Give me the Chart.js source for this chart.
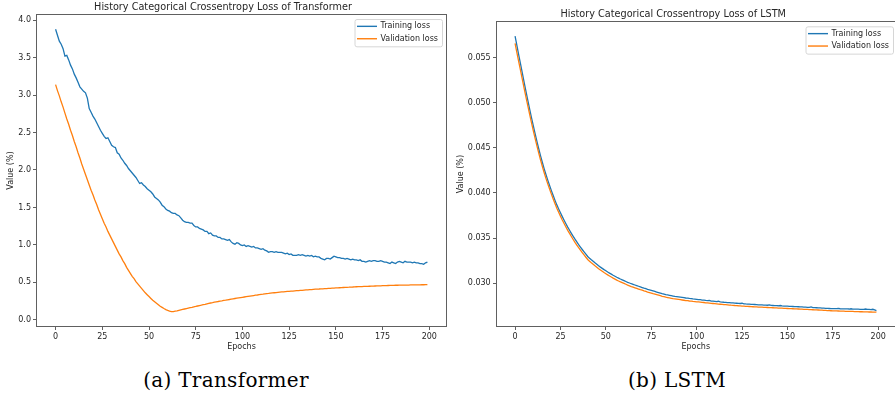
<!DOCTYPE html>
<html>
<head>
<meta charset="utf-8">
<script src="https://cdn.jsdelivr.net/npm/chart.js@4.4.1/dist/chart.umd.min.js"></script>
<style>
  body { margin: 0; background: #fff; width: 895px; height: 397px; position: relative; overflow: hidden; }
  canvas { position: absolute; top: 0; }
  .caption { position: absolute; width: 240px; text-align: center; font-family: "DejaVu Serif", serif; font-size: 20px; letter-spacing: 0.3px; color: #000; top: 368px; }
</style>
</head>
<body>
<canvas id="trChart" width="452" height="358" style="left:0px"></canvas>
<canvas id="lsChart" width="443" height="358" style="left:452px"></canvas>
<div class="caption" style="left:106px">(a) Transformer</div>
<div class="caption" style="left:557px">(b) LSTM</div>
<script>
// ---- data ----
const xTicks = [0, 25, 50, 75, 100, 125, 150, 175, 200];
const trYTicks = [0, 0.5, 1.0, 1.5, 2.0, 2.5, 3.0, 3.5, 4.0];
const lsYTicks = [0.030, 0.035, 0.040, 0.045, 0.050, 0.055];

const trTrainLoss = [
  3.88, 3.80, 3.72, 3.68, 3.62, 3.52, 3.53, 3.47, 3.40, 3.35,
  3.28, 3.23, 3.17, 3.11, 3.08, 3.05, 3.03, 2.96, 2.82, 2.77,
  2.72, 2.68, 2.63, 2.58, 2.53, 2.49, 2.45, 2.42, 2.43, 2.38,
  2.33, 2.31, 2.30, 2.23, 2.21, 2.16, 2.13, 2.09, 2.06, 2.02,
  1.99, 1.96, 1.93, 1.90, 1.86, 1.82, 1.83, 1.80, 1.78, 1.75,
  1.73, 1.71, 1.68, 1.64, 1.62, 1.60, 1.57, 1.53, 1.51, 1.48,
  1.46, 1.45, 1.43, 1.42, 1.42, 1.40, 1.39, 1.36, 1.33, 1.31,
  1.30, 1.30, 1.29, 1.29, 1.26, 1.24, 1.24, 1.22, 1.21, 1.20,
  1.18, 1.18, 1.15, 1.16, 1.13, 1.12, 1.12, 1.10, 1.10, 1.08,
  1.08, 1.07, 1.06, 1.07, 1.04, 1.02, 1.01, 1.03, 1.02, 1.00,
  0.99, 1.00, 0.98, 0.99, 0.98, 0.97, 0.98, 0.96, 0.96, 0.95,
  0.94, 0.95, 0.93, 0.92, 0.90, 0.91, 0.91, 0.90, 0.91, 0.90,
  0.90, 0.90, 0.89, 0.88, 0.89, 0.87, 0.88, 0.86, 0.86, 0.86,
  0.87, 0.86, 0.87, 0.86, 0.85, 0.86, 0.85, 0.86, 0.84, 0.85,
  0.84, 0.84, 0.82, 0.81, 0.80, 0.82, 0.82, 0.81, 0.83, 0.85,
  0.84, 0.83, 0.83, 0.82, 0.82, 0.81, 0.82, 0.81, 0.80, 0.81,
  0.80, 0.80, 0.79, 0.80, 0.78, 0.78, 0.77, 0.78, 0.79, 0.78,
  0.79, 0.79, 0.78, 0.78, 0.79, 0.78, 0.77, 0.77, 0.76, 0.75,
  0.77, 0.76, 0.75, 0.77, 0.78, 0.77, 0.76, 0.78, 0.77, 0.77,
  0.77, 0.76, 0.77, 0.76, 0.76, 0.75, 0.75, 0.74, 0.76, 0.77
];
const trValLoss = [
  3.14, 3.06, 2.99, 2.91, 2.84, 2.76, 2.68, 2.61, 2.53, 2.46,
  2.38, 2.31, 2.23, 2.16, 2.08, 2.01, 1.94, 1.87, 1.80, 1.73,
  1.67, 1.60, 1.54, 1.47, 1.41, 1.35, 1.29, 1.24, 1.18, 1.13,
  1.08, 1.03, 0.98, 0.93, 0.88, 0.84, 0.79, 0.75, 0.70, 0.66,
  0.62, 0.58, 0.55, 0.51, 0.48, 0.45, 0.42, 0.39, 0.36, 0.335,
  0.31, 0.285, 0.26, 0.24, 0.22, 0.20, 0.18, 0.165, 0.15, 0.136,
  0.125, 0.115, 0.108, 0.110, 0.115, 0.120, 0.126, 0.132, 0.138, 0.144,
  0.150, 0.156, 0.162, 0.167, 0.173, 0.178, 0.184, 0.190, 0.195, 0.201,
  0.206, 0.212, 0.218, 0.224, 0.229, 0.235, 0.240, 0.244, 0.249, 0.253,
  0.258, 0.262, 0.267, 0.271, 0.276, 0.280, 0.284, 0.288, 0.292, 0.296,
  0.300, 0.304, 0.308, 0.312, 0.316, 0.320, 0.324, 0.328, 0.331, 0.335,
  0.339, 0.342, 0.346, 0.350, 0.352, 0.355, 0.358, 0.361, 0.364, 0.367,
  0.370, 0.372, 0.374, 0.376, 0.378, 0.380, 0.382, 0.384, 0.386, 0.388,
  0.390, 0.392, 0.394, 0.396, 0.398, 0.400, 0.402, 0.404, 0.406, 0.408,
  0.410, 0.411, 0.413, 0.414, 0.416, 0.417, 0.419, 0.420, 0.422, 0.423,
  0.425, 0.426, 0.428, 0.429, 0.431, 0.432, 0.434, 0.435, 0.437, 0.438,
  0.440, 0.441, 0.442, 0.443, 0.444, 0.445, 0.446, 0.447, 0.448, 0.449,
  0.450, 0.451, 0.452, 0.453, 0.454, 0.455, 0.456, 0.457, 0.458, 0.459,
  0.460, 0.460, 0.461, 0.461, 0.462, 0.462, 0.463, 0.463, 0.464, 0.464,
  0.465, 0.465, 0.466, 0.466, 0.467, 0.467, 0.468, 0.468, 0.469, 0.470
];
const lsTrainLoss = [
  .05736, .05633, .05530, .05428, .05326, .05225, .05125, .05027, .04931, .04838,
  .04748, .04660, .04574, .04492, .04414, .04340, .04270, .04204, .04142, .04083,
  .04026, .03971, .03918, .03868, .03823, .03780, .03738, .03698, .03659, .03622,
  .03587, .03553, .03520, .03488, .03458, .03429, .03401, .03374, .03348, .03322,
  .03297, .03278, .03260, .03243, .03226, .03210, .03194, .03179, .03165, .03151,
  .03138, .03125, .03113, .03101, .03089, .03078, .03067, .03057, .03047, .03038,
  .03029, .03020, .03011, .03003, .02995, .02988, .02981, .02974, .02967, .02960,
  .02953, .02946, .02940, .02933, .02927, .02921, .02915, .02909, .02903, .02897,
  .02891, .02885, .02880, .02875, .02871, .02867, .02863, .02859, .02855, .02852,
  .02849, .02846, .02843, .02840, .02837, .02835, .02832, .02830, .02827, .02825,
  .02822, .02819, .02818, .02814, .02813, .02810, .02808, .02810, .02803, .02802,
  .02800, .02797, .02801, .02794, .02792, .02790, .02789, .02786, .02785, .02783,
  .02782, .02780, .02779, .02777, .02776, .02779, .02773, .02771, .02770, .02769,
  .02767, .02766, .02765, .02764, .02762, .02761, .02760, .02759, .02758, .02757,
  .02760, .02755, .02754, .02753, .02752, .02751, .02754, .02749, .02748, .02747,
  .02746, .02745, .02744, .02743, .02742, .02741, .02740, .02739, .02738, .02736,
  .02735, .02734, .02733, .02738, .02731, .02730, .02729, .02728, .02727, .02725,
  .02724, .02723, .02722, .02721, .02720, .02720, .02719, .02719, .02722, .02718,
  .02717, .02717, .02716, .02716, .02715, .02718, .02714, .02714, .02713, .02713,
  .02712, .02712, .02711, .02715, .02710, .02710, .02709, .02712, .02705, .02698
];
const lsValLoss = [
  .05655, .05555, .05455, .05356, .05257, .05159, .05062, .04967, .04873, .04782,
  .04694, .04608, .04524, .04444, .04368, .04296, .04227, .04162, .04101, .04043,
  .03987, .03933, .03880, .03830, .03786, .03743, .03701, .03662, .03623, .03586,
  .03552, .03518, .03485, .03453, .03423, .03395, .03367, .03340, .03314, .03288,
  .03264, .03245, .03227, .03210, .03193, .03177, .03161, .03147, .03133, .03119,
  .03106, .03093, .03081, .03069, .03057, .03046, .03035, .03025, .03016, .03007,
  .02998, .02989, .02980, .02972, .02964, .02957, .02950, .02943, .02936, .02929,
  .02923, .02916, .02910, .02903, .02897, .02891, .02885, .02880, .02874, .02868,
  .02862, .02856, .02851, .02846, .02842, .02838, .02834, .02830, .02827, .02824,
  .02821, .02818, .02815, .02812, .02809, .02807, .02804, .02802, .02799, .02797,
  .02795, .02793, .02791, .02789, .02787, .02784, .02782, .02780, .02778, .02776,
  .02774, .02772, .02770, .02768, .02766, .02764, .02763, .02761, .02759, .02757,
  .02756, .02754, .02753, .02751, .02750, .02748, .02747, .02745, .02744, .02743,
  .02741, .02740, .02739, .02738, .02737, .02736, .02735, .02734, .02733, .02732,
  .02731, .02730, .02729, .02728, .02727, .02726, .02725, .02724, .02723, .02722,
  .02721, .02720, .02719, .02718, .02717, .02716, .02715, .02714, .02713, .02712,
  .02711, .02710, .02709, .02708, .02707, .02706, .02705, .02704, .02703, .02702,
  .02700, .02699, .02698, .02697, .02696, .02695, .02694, .02694, .02693, .02692,
  .02692, .02691, .02690, .02690, .02689, .02688, .02688, .02687, .02687, .02686,
  .02685, .02685, .02684, .02684, .02683, .02682, .02682, .02681, .02681, .02680
];
const epochs = trTrainLoss.map((_, i) => i);

const FONT = 'DejaVu Sans';
const SMALL = 8;
const TEXT = '#262626';
const SPINE = '#606060';
const BLUE = '#1f77b4';
const ORANGE = '#ff7f0e';

// box around the plot area, like matplotlib spines
const frame = {
  id: 'frame',
  afterDraw(chart) {
    const { ctx, chartArea: a } = chart;
    ctx.save();
    ctx.strokeStyle = SPINE;
    ctx.lineWidth = 1;
    const l = Math.round(a.left) - 0.5, t = Math.round(a.top) - 0.5;
    ctx.strokeRect(l, t, Math.round(a.right) - Math.round(a.left) + 1, Math.round(a.bottom) - Math.round(a.top) + 1);
    ctx.restore();
  }
};

// legend in the upper right corner of the axes
const insideLegend = {
  id: 'insideLegend',
  afterDraw(chart, args, opts) {
    const { ctx, chartArea: a } = chart;
    const sets = chart.data.datasets;
    ctx.save();
    ctx.font = SMALL + 'px "' + FONT + '"';
    const tw = Math.max(...sets.map(d => ctx.measureText(d.label).width));
    const w = 2.5 + 20 + 3.5 + tw + 4;
    const rowH = 12.4;
    const h = sets.length * rowH + 2.5;
    const x = a.right - opts.right - w;
    const y = a.top + opts.top;
    ctx.fillStyle = 'rgba(255,255,255,0.8)';
    ctx.strokeStyle = '#d6d6d6';
    ctx.lineWidth = 1;
    ctx.beginPath();
    ctx.roundRect(x + 0.5, y + 0.5, w, h, 2);
    ctx.fill();
    ctx.stroke();
    sets.forEach((d, i) => {
      const cy = y + 7.3 + i * rowH;
      ctx.strokeStyle = d.borderColor;
      ctx.lineWidth = 1.4;
      ctx.beginPath();
      ctx.moveTo(x + 2.5, cy);
      ctx.lineTo(x + 22.5, cy);
      ctx.stroke();
      ctx.fillStyle = TEXT;
      ctx.textBaseline = 'middle';
      ctx.fillText(d.label, x + 26, cy);
    });
    ctx.restore();
  }
};

function makeChart(el, title, train, val, yMin, yMax, yTicks, digits, cfg) {
  return new Chart(el, {
    type: 'line',
    data: {
      labels: epochs,
      datasets: [
        { label: 'Training loss', data: train, borderColor: BLUE, borderWidth: 1.3, pointRadius: 0, tension: 0, order: 2 },
        { label: 'Validation loss', data: val, borderColor: ORANGE, borderWidth: 1.3, pointRadius: 0, tension: 0, order: 1 }
      ]
    },
    options: {
      responsive: false,
      devicePixelRatio: 1,
      animation: false,
      layout: { padding: { left: 0, right: cfg.padRight, top: 0, bottom: 6 } },
      scales: {
        x: {
          type: 'linear',
          min: -9.95,
          max: 208.95,
          afterBuildTicks: s => { s.ticks = xTicks.map(v => ({ value: v })); },
          afterFit: s => { s.height = 26; },
          grid: { drawOnChartArea: false, drawTicks: true, tickLength: 4, color: SPINE },
          border: { display: false },
          ticks: { font: { family: FONT, size: SMALL }, color: TEXT, padding: 2, maxRotation: 0, autoSkip: false },
          title: { display: true, text: 'Epochs', font: { family: FONT, size: SMALL }, color: TEXT, padding: { top: 0, bottom: 0 } }
        },
        y: {
          min: yMin,
          max: yMax,
          afterBuildTicks: s => { s.ticks = yTicks.map(v => ({ value: v })); },
          afterFit: s => { s.width = cfg.yWidth; },
          grid: { drawOnChartArea: false, drawTicks: true, tickLength: 4, color: SPINE },
          border: { display: false },
          ticks: {
            font: { family: FONT, size: SMALL }, color: TEXT, padding: cfg.tickPad, autoSkip: false,
            callback: v => v.toFixed(digits)
          },
          title: { display: true, text: 'Value (%)', font: { family: FONT, size: SMALL }, color: TEXT, padding: { top: cfg.yTitlePad, bottom: 0 } }
        }
      },
      plugins: {
        legend: { display: false },
        tooltip: { enabled: false },
        title: {
          display: true,
          text: title,
          font: { family: FONT, size: 9.7, weight: 'normal' },
          color: TEXT,
          padding: { top: cfg.titleTop, bottom: cfg.titleBottom }
        },
        insideLegend: { right: cfg.legendRight, top: 4 }
      }
    },
    plugins: [frame, insideLegend]
  });
}

makeChart(document.getElementById('trChart'), 'History Categorical Crossentropy Loss of Transformer',
  trTrainLoss, trValLoss, -0.083, 4.069, trYTicks, 1,
  { padRight: 6, yWidth: 37, tickPad: 2, yTitlePad: 6, titleTop: 1.2, titleBottom: 2.2, legendRight: 4 });

makeChart(document.getElementById('lsChart'), 'History Categorical Crossentropy Loss of LSTM',
  lsTrainLoss, lsValLoss, 0.02527, 0.05889, lsYTicks, 3,
  { padRight: 0.5, yWidth: 45, tickPad: 2.3, yTitlePad: 4, titleTop: 8.7, titleBottom: 2, legendRight: 1.5 });
</script>
</body>
</html>
